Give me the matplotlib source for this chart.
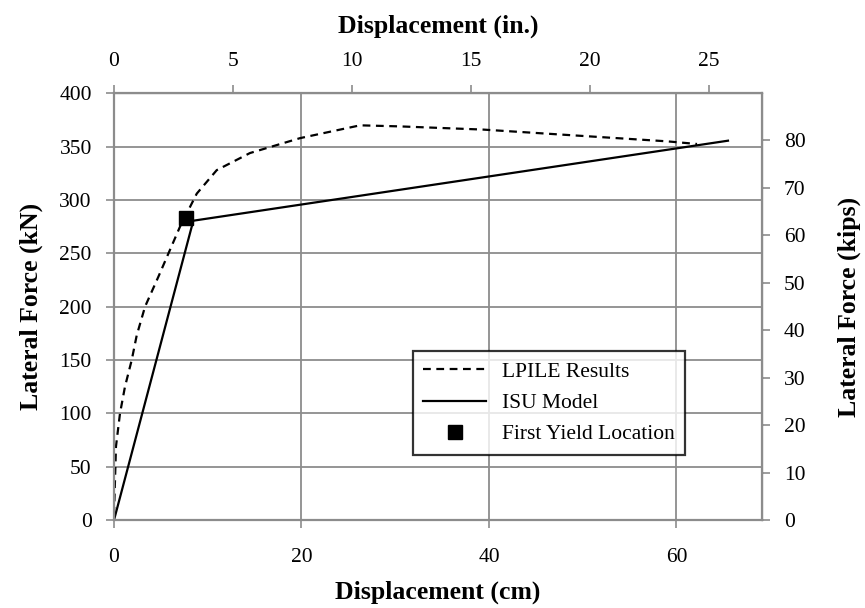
import matplotlib.pyplot as plt

plt.rcParams['font.family'] = ['Liberation Serif', 'DejaVu Serif']

# Dados (cm, kN)
lpile_x = [0.0, 0.21, 0.64, 1.17, 1.89, 2.42, 3.31, 4.73, 7.04, 8.83, 10.96,
           14.5, 19.85, 26.25, 30.5, 39.4, 48.3, 59.0, 62.2]
lpile_y = [5, 69, 100, 125, 150, 173, 200, 228, 275, 306, 328,
           344, 358, 370, 369, 366, 361, 355, 352.5]
isu_x = [0.0, 8.46, 65.5]
isu_y = [0.0, 280.6, 355.6]
yield_x = [7.65]
yield_y = [283.4]

CM_PER_IN = 2.54
KN_PER_KIP = 4.448

grid_color = '#8c8c8c'
tick_fs = 15.5
label_fs = 18.5

fig = plt.figure(figsize=(8.65, 6.08), dpi=100)
ax = fig.add_axes([0.1318, 0.1447, 0.7488, 0.7018])

ax.plot(lpile_x, lpile_y, color='black', lw=1.6, dashes=(3.5, 2.5), label='LPILE Results')
ax.plot(isu_x, isu_y, color='black', lw=1.6, label='ISU Model')
ax.plot(yield_x, yield_y, 's', color='black', ms=10.5, label='First Yield Location')

ax.set_xlim(0, 69.1)
ax.set_ylim(0, 400)
ax.set_xticks([0, 20, 40, 60])
ax.set_yticks(range(0, 401, 50))
ax.grid(True, color=grid_color, lw=1.3)
ax.set_axisbelow(True)
for s in ax.spines.values():
    s.set_color(grid_color)
    s.set_linewidth(1.6)
ax.tick_params(axis='y', direction='out', length=6, color=grid_color, width=1.2,
               labelsize=tick_fs, pad=10)
ax.tick_params(axis='x', direction='out', length=6, color=grid_color, width=1.2,
               labelsize=tick_fs, pad=14)

ax.set_xlabel('Displacement (cm)', fontsize=label_fs, fontweight='bold', labelpad=10)
ax.set_ylabel('Lateral Force (kN)', fontsize=label_fs, fontweight='bold', labelpad=12)

top = ax.secondary_xaxis('top', functions=(lambda x: x / CM_PER_IN, lambda x: x * CM_PER_IN))
top.set_xticks([0, 5, 10, 15, 20, 25])
top.tick_params(direction='out', length=6, color=grid_color, width=1.2,
                labelsize=tick_fs, pad=10)
top.set_xlabel('Displacement (in.)', fontsize=label_fs, fontweight='bold', labelpad=14)

right = ax.secondary_yaxis('right', functions=(lambda y: y / KN_PER_KIP, lambda y: y * KN_PER_KIP))
right.set_yticks(range(0, 81, 10))
right.tick_params(direction='out', length=6, color=grid_color, width=1.2,
                  labelsize=tick_fs, pad=10)
right.set_ylabel('Lateral Force (kips)', fontsize=label_fs, fontweight='bold', labelpad=23)

leg = ax.legend(loc='lower left', bbox_to_anchor=(0.461, 0.152), fontsize=15.5,
                frameon=True, fancybox=False, handlelength=2.9, borderpad=0.5,
                labelspacing=0.52, handletextpad=0.75, borderaxespad=0)
leg.get_frame().set_edgecolor('black')
leg.get_frame().set_linewidth(1.6)

plt.savefig('out.png', dpi=100)
